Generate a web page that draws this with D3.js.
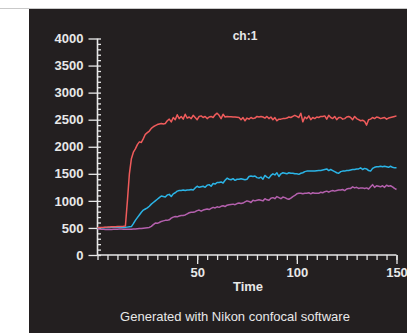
<!DOCTYPE html>
<html>
<head>
<meta charset="utf-8">
<script src="https://cdn.jsdelivr.net/npm/d3@7"></script>
<style>
  html, body { margin: 0; padding: 0; background: #fff; }
  svg { display: block; font-family: "Liberation Sans", Arial, Helvetica, sans-serif; }
</style>
</head>
<body>
<div id="chart"></div>
<script>
// one value per time step (t = 0 .. 150)
const redValues = [
  505, 508, 510, 512, 515, 516, 518, 520, 522, 524, 525, 526, 528, 530, 535,
  1000, 1500, 1780, 1900, 1960, 2040, 2090, 2080, 2150, 2230, 2260, 2290, 2340, 2370, 2390,
  2410, 2420, 2430, 2420, 2430, 2480, 2510, 2460, 2540, 2500, 2590, 2520, 2560, 2510, 2600,
  2530, 2550, 2520, 2580, 2540, 2500, 2560, 2570, 2540, 2560, 2520, 2550, 2560, 2540, 2590,
  2620, 2580, 2520, 2600, 2550, 2560, 2555, 2555, 2550, 2550, 2545, 2540, 2500, 2540, 2480,
  2530, 2510, 2540, 2520, 2530, 2560, 2550, 2560, 2550, 2530, 2560, 2520, 2550, 2500, 2540,
  2480, 2510, 2510, 2520, 2520, 2530, 2550, 2540, 2560, 2580, 2560, 2540, 2620, 2460, 2550,
  2520, 2570, 2500, 2540, 2520, 2550, 2540, 2560, 2560, 2570, 2510, 2580, 2540, 2520, 2560,
  2500, 2540, 2540, 2510, 2520, 2550, 2560, 2540, 2500, 2560, 2520, 2500, 2480, 2490, 2470,
  2400, 2500, 2510, 2540, 2520, 2550, 2540, 2520, 2530, 2540, 2510, 2530, 2540, 2550, 2560,
  2570
];
const blueValues = [
  500, 502, 505, 505, 508, 510, 510, 512, 512, 515, 515, 515, 512, 510, 512, 515, 520,
  525, 580, 640, 690, 740, 790, 830, 850, 870, 900, 940, 970, 1000, 1030, 1060, 1090, 1080,
  1070, 1110, 1120, 1080, 1130, 1150, 1180, 1190, 1190, 1200, 1190, 1200, 1200, 1210, 1200,
  1240, 1270, 1250, 1260, 1270, 1250, 1290, 1300, 1270, 1320, 1310, 1340, 1340, 1350, 1330,
  1380, 1420, 1400, 1390, 1410, 1380, 1400, 1400, 1410, 1400, 1390, 1400, 1450, 1460, 1450,
  1460, 1430, 1420, 1440, 1400, 1470, 1440, 1420, 1470, 1500, 1480, 1520, 1450, 1500, 1520,
  1510, 1500, 1520, 1510, 1510, 1500, 1500, 1490, 1510, 1520, 1540, 1550, 1550, 1550, 1550,
  1550, 1555, 1560, 1560, 1570, 1580, 1590, 1560, 1580, 1560, 1540, 1520, 1510, 1540, 1550,
  1550, 1560, 1560, 1570, 1580, 1580, 1590, 1590, 1610, 1580, 1600, 1590, 1560, 1550, 1600,
  1620, 1630, 1630, 1640, 1630, 1640, 1630, 1620, 1640, 1620, 1610, 1610
];
const purpleValues = [
  485, 480, 478, 475, 472, 470, 470, 472, 475, 476, 478, 480, 480, 478, 476, 475, 476, 478,
  480, 482, 485, 488, 490, 495, 500, 505, 510, 530, 560, 590, 585, 600, 620, 630, 640, 640,
  650, 680, 700, 710, 705, 720, 730, 730, 740, 760, 780, 790, 790, 800, 820, 830, 810, 830,
  840, 850, 840, 860, 880, 870, 890, 880, 900, 910, 895, 920, 930, 935, 940, 930, 950, 960,
  950, 960, 980, 1000, 990, 970, 1010, 1000, 1010, 1020, 1010, 1000, 1040, 1020, 1010, 1050,
  1060, 1040, 1080, 1060, 1040, 1070, 1060, 1040, 1030, 1050, 1080, 1100, 1130, 1140, 1140,
  1130, 1140, 1140, 1150, 1130, 1150, 1140, 1140, 1140, 1160, 1150, 1170, 1180, 1160, 1180,
  1190, 1180, 1190, 1200, 1200, 1210, 1190, 1220, 1230, 1230, 1260, 1240, 1250, 1230, 1240,
  1240, 1230, 1240, 1220, 1260, 1300, 1250, 1280, 1270, 1260, 1280, 1250, 1290, 1270, 1280,
  1260, 1230, 1210
];
const yMajorTicks = [0, 500, 1000, 1500, 2000, 2500, 3000, 3500, 4000];
const xMajorTicks = [50, 100, 150];
const xLabel = "Time";
const chartTitle = "ch:1";
const footer = "Generated with Nikon confocal software";

const W = 407, H = 333;

const svg = d3.select("#chart").append("svg")
    .attr("width", W)
    .attr("height", H);

// thin rule along the top and the dark panel
svg.append("line")
    .attr("x1", 0).attr("x2", W).attr("y1", 8.5).attr("y2", 8.5)
    .attr("stroke", "#c9c9c9").attr("stroke-width", 1);
svg.append("rect")
    .attr("x", 29).attr("y", 9).attr("width", W - 29).attr("height", H - 9)
    .attr("fill", "#231f20");

const x = d3.scaleLinear().domain([0, 150]).range([97.5, 396.5]);
const y = d3.scaleLinear().domain([0, 4000]).range([255, 38.5]);

const axisColor = "#e8e8e8";

// minor ticks
const yMinor = svg.append("g")
    .attr("transform", `translate(${x(0)},0)`)
    .call(d3.axisLeft(y).tickValues(d3.range(0, 4001, 100)).tickSize(-3.5).tickFormat(""));
const xMinor = svg.append("g")
    .attr("transform", `translate(0,${y(0)})`)
    .call(d3.axisBottom(x).tickValues(d3.range(0, 151, 5)).tickSize(5).tickFormat(""));

// major ticks with labels
const yAxis = svg.append("g")
    .attr("transform", `translate(${x(0)},0)`)
    .call(d3.axisLeft(y).tickValues(yMajorTicks).tickSize(9).tickPadding(5).tickFormat(d3.format("d")));
const xAxis = svg.append("g")
    .attr("transform", `translate(0,${y(0)})`)
    .call(d3.axisBottom(x).tickValues(xMajorTicks).tickSize(9).tickPadding(4));

[yMinor, xMinor, yAxis, xAxis].forEach(g => {
  g.select(".domain").attr("stroke", axisColor).attr("stroke-width", 1.6);
  g.selectAll(".tick line").attr("stroke", axisColor).attr("stroke-width", 1.3);
  g.selectAll(".tick text")
    .attr("fill", axisColor)
    .style("font-size", "13px")
    .style("font-weight", "bold");
});
yAxis.select(".domain").remove();
yMinor.select(".domain").attr("d", `M0,${y(0)}V${y(4000)}`);
xAxis.select(".domain").remove();
xMinor.select(".domain").attr("d", `M${x(0)},0H${x(150)}`);

// data lines
const line = d3.line()
    .x((d, i) => x(i))
    .y(d => y(d));

const series = [
  { values: purpleValues, color: "#b460ad" },
  { values: blueValues, color: "#2bb4e6" },
  { values: redValues, color: "#ef5b5b" }
];
series.forEach(s => {
  svg.append("path")
      .datum(s.values)
      .attr("fill", "none")
      .attr("stroke", s.color)
      .attr("stroke-width", 1.5)
      .attr("stroke-linejoin", "round")
      .attr("d", line);
});

// texts
svg.append("text")
    .attr("x", 245).attr("y", 40)
    .attr("text-anchor", "middle")
    .attr("fill", axisColor)
    .style("font-size", "12px").style("font-weight", "bold")
    .text(chartTitle);
svg.append("text")
    .attr("x", 248).attr("y", 291)
    .attr("text-anchor", "middle")
    .attr("fill", axisColor)
    .style("font-size", "13px").style("font-weight", "bold")
    .text(xLabel);
svg.append("text")
    .attr("x", 235).attr("y", 321)
    .attr("text-anchor", "middle")
    .attr("fill", axisColor)
    .style("font-size", "13px")
    .text(footer);
</script>
</body>
</html>
